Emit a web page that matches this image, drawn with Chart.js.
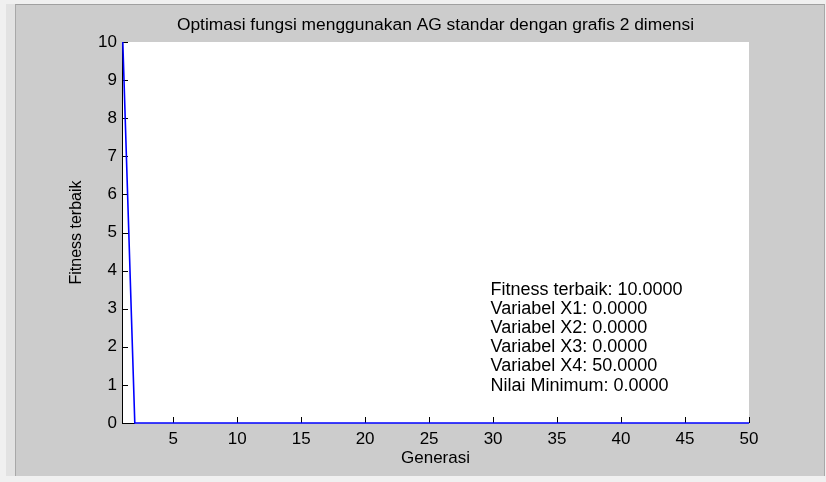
<!DOCTYPE html>
<html>
<head>
<meta charset="utf-8">
<script src="https://cdn.jsdelivr.net/npm/chart.js@4/dist/chart.umd.min.js"></script>
<style>
  html, body { margin: 0; padding: 0; width: 826px; height: 482px; overflow: hidden; background: #f0f0f0; }
  #strip { position: absolute; left: 6px; top: 4px; width: 9px; height: 472px; background: #e2e2e2; }
  #frame { position: absolute; left: 15px; top: 4px; width: 808px; height: 471px; background: #cccccc;
           border-top: 1px solid #a0a0a0; border-left: 1px solid #a8a8a8; border-right: 1px solid #a8a8a8; }
  #wrap { position: absolute; left: 0; top: 0; width: 826px; height: 482px; }
</style>
</head>
<body>
<div id="strip"></div>
<div id="frame"></div>
<div id="wrap"><canvas id="c" width="826" height="482"></canvas></div>
<script>
// ---- data ----
const generations = [1,2,3,4,5,6,7,8,9,10,11,12,13,14,15,16,17,18,19,20,21,22,23,24,25,26,27,28,29,30,31,32,33,34,35,36,37,38,39,40,41,42,43,44,45,46,47,48,49,50];
const fitness = [10,0,0,0,0,0,0,0,0,0,0,0,0,0,0,0,0,0,0,0,0,0,0,0,0,0,0,0,0,0,0,0,0,0,0,0,0,0,0,0,0,0,0,0,0,0,0,0,0,0];
const xTicks = [5,10,15,20,25,30,35,40,45,50];
const yTicks = [0,1,2,3,4,5,6,7,8,9,10];
const titleText = "Optimasi fungsi menggunakan AG standar dengan grafis 2 dimensi";
const xLabel = "Generasi";
const yLabel = "Fitness terbaik";
const infoLines = [
  "Fitness terbaik: 10.0000",
  "Variabel X1: 0.0000",
  "Variabel X2: 0.0000",
  "Variabel X3: 0.0000",
  "Variabel X4: 50.0000",
  "Nilai Minimum: 0.0000"
];

const FONT = "'Liberation Sans', Arial, sans-serif";

const matlabPlugin = {
  id: 'matlab',
  beforeDatasetsDraw(chart) {
    const {ctx, chartArea: a} = chart;
    ctx.save();
    ctx.fillStyle = '#ffffff';
    ctx.fillRect(a.left, a.top, a.right - a.left, a.bottom - a.top);
    ctx.restore();
  },
  afterDraw(chart) {
    const {ctx, chartArea: a, scales} = chart;
    const xs = scales.x, ys = scales.y;
    ctx.save();
    // axis lines
    ctx.strokeStyle = '#000';
    ctx.lineWidth = 1;
    ctx.beginPath();
    ctx.moveTo(a.left + 0.5, a.top);
    ctx.lineTo(a.left + 0.5, a.bottom + 0.5);
    ctx.lineTo(a.left + 13, a.bottom + 0.5);
    ctx.stroke();
    // inward ticks
    ctx.beginPath();
    xs.ticks.forEach(t => {
      const px = Math.round(xs.getPixelForValue(t.value)) + 0.5;
      ctx.moveTo(px, a.bottom);
      ctx.lineTo(px, a.bottom - 6);
    });
    ys.ticks.forEach(t => {
      const py = Math.round(ys.getPixelForValue(t.value)) + 0.5;
      ctx.moveTo(a.left, py);
      ctx.lineTo(a.left + 6, py);
    });
    ctx.stroke();
    ctx.restore();
    // series drawn on top of the axis lines, through the chart's scales
    ctx.save();
    ctx.strokeStyle = '#0000ff';
    ctx.lineWidth = 1.6;
    ctx.beginPath();
    generations.forEach((g, i) => {
      const px = xs.getPixelForValue(g) + (i === 0 ? 0.8 : 0);
      const py = ys.getPixelForValue(fitness[i]);
      if (i === 0) ctx.moveTo(px, py); else ctx.lineTo(px, py);
    });
    ctx.stroke();
    ctx.restore();
    // title
    ctx.save();
    ctx.fillStyle = '#000';
    ctx.font = '17.4px ' + FONT;
    ctx.textAlign = 'center';
    ctx.textBaseline = 'middle';
    ctx.fillText(titleText, (a.left + a.right) / 2, a.top - 17);
    // info text
    ctx.font = '18px ' + FONT;
    ctx.textAlign = 'left';
    const x0 = xs.getPixelForValue(29.8);
    const y0 = ys.getPixelForValue(3.50);
    infoLines.forEach((s, i) => ctx.fillText(s, x0, y0 + i * 19.2));
    ctx.restore();
  }
};

new Chart(document.getElementById('c'), {
  type: 'line',
  data: {
    datasets: [{
      data: generations.map((g, i) => ({x: g, y: fitness[i]})),
      borderColor: 'rgba(0,0,0,0)',
      borderWidth: 1,
      pointRadius: 0,
      tension: 0,
      fill: false
    }]
  },
  options: {
    responsive: false,
    animation: false,
    devicePixelRatio: 1,
    layout: { padding: { left: 62, top: 42, right: 77, bottom: 9 } },
    plugins: { legend: { display: false }, tooltip: { enabled: false }, title: { display: false } },
    scales: {
      x: {
        type: 'linear',
        min: 1, max: 50,
        afterFit(scale) { scale.height = 50; },
        afterBuildTicks(scale) { scale.ticks = xTicks.map(v => ({value: v})); },
        grid: { display: false, drawTicks: false },
        border: { display: false },
        ticks: { autoSkip: false, maxRotation: 0, padding: 6, color: '#000', font: { family: FONT, size: 17 } },
        title: { display: true, text: xLabel, color: '#000', font: { family: FONT, size: 17 }, padding: { top: 0, bottom: 4 } }
      },
      y: {
        min: 0, max: 10,
        afterFit(scale) { scale.width = 60; },
        afterBuildTicks(scale) { scale.ticks = yTicks.map(v => ({value: v})); },
        grid: { display: false, drawTicks: false },
        border: { display: false },
        ticks: { padding: 5, color: '#000', font: { family: FONT, size: 17 } },
        title: { display: true, text: yLabel, color: '#000', font: { family: FONT, size: 16 }, padding: { top: 5, bottom: 0 } }
      }
    }
  },
  plugins: [matlabPlugin]
});
</script>
</body>
</html>
